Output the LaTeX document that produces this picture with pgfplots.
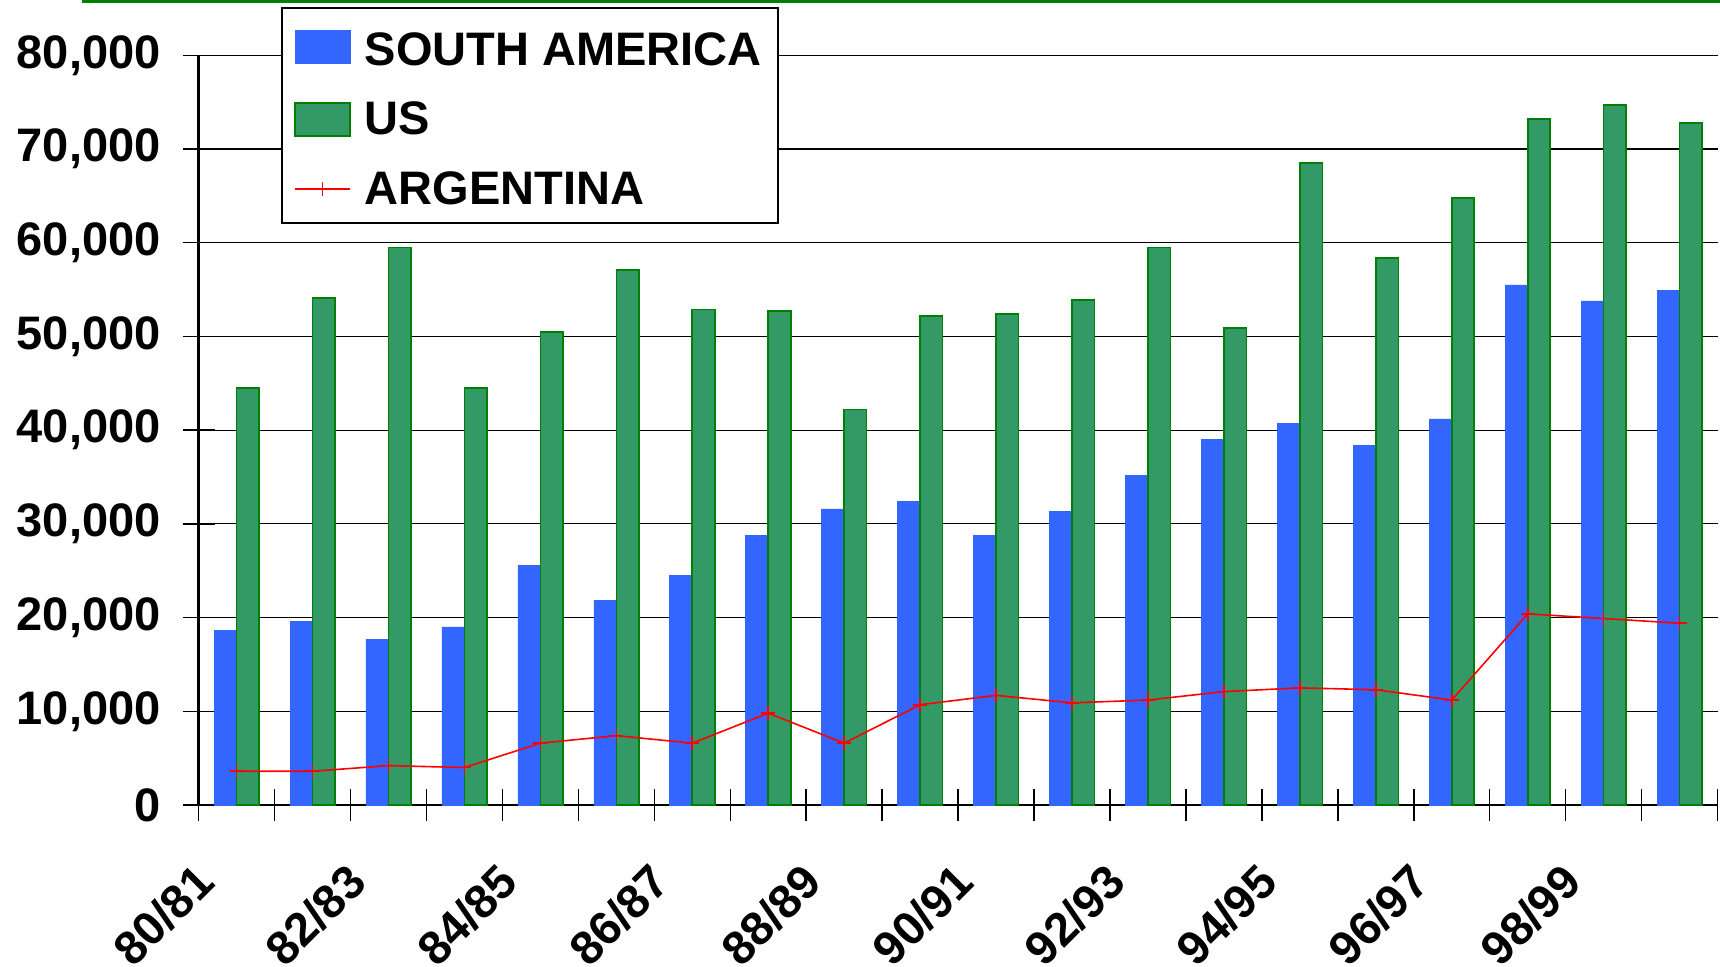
\documentclass[border=0pt]{standalone}
\usepackage{pgfplots}
\usepackage{pgfplotstable}
\pgfplotsset{compat=1.18}
\usepackage{fontspec}
\setmainfont{Liberation Sans}
\definecolor{saBlue}{RGB}{51,102,255}
\definecolor{usGreen}{RGB}{51,153,102}
\definecolor{usEdge}{RGB}{0,128,0}
\definecolor{topGreen}{RGB}{0,128,0}
\newcommand\lbl{\fontsize{23.5}{28}\selectfont\bfseries}

\pgfplotstableread{
x sa us ar
0 18600 44500 3600
1 19600 54100 3600
2 17700 59500 4200
3 19000 44500 4000
4 25600 50500 6600
5 21800 57100 7400
6 24500 52900 6600
7 28800 52700 9800
8 31600 42200 6600
9 32400 52200 10700
10 28800 52400 11700
11 31300 53900 10900
12 35200 59500 11200
13 39000 50900 12100
14 40700 68500 12500
15 38400 58400 12300
16 41200 64800 11200
17 55500 73200 20400
18 53800 74700 19900
19 54900 72800 19400
}\datatable

\begin{document}
\begin{tikzpicture}
\path[use as bounding box] (-99.3pt,-81pt) rectangle (760.7pt,402.5pt);
\begin{axis}[
  at={(0,0)}, anchor=south west,
  scale only axis, width=759.5pt, height=374.8pt,
  xmin=-0.5, xmax=19.5, ymin=0, ymax=80000,
  axis lines=left, axis line style={-, line width=1.1pt},
  xtick={-0.5,0.5,...,19.5}, xticklabels={},
  extra x ticks={0,2,...,18},
  extra x tick labels={80/81,82/83,84/85,86/87,88/89,90/91,92/93,94/95,96/97,98/99},
  extra x tick style={major tick length=0pt},
  xticklabel style={font=\lbl, xshift=-22pt, yshift=-23pt, rotate=45, anchor=north east},
  ytick={0,10000,...,80000},
  scaled y ticks=false,
  yticklabel style={font=\lbl, /pgf/number format/1000 sep={,}, /pgf/number format/assume math mode=true, xshift=-7.5pt},
  ymajorgrids, xmajorgrids=false,
  grid style={black, line width=0.6pt},
  tick align=center, major tick length=16pt,
  tick style={black, line width=0.7pt},
  legend style={at={(0.0543,1.064)}, anchor=north west, draw=black, line width=1pt, fill=white,
    font=\lbl, inner xsep=6pt, inner ysep=6pt, row sep=12.8pt, cells={anchor=west},
    /tikz/every odd column/.append style={column sep=5pt}},
  legend cell align=left,
  clip=false,
]
\addplot[ybar, bar width=11.25pt, bar shift=-5.625pt, fill=saBlue, draw=saBlue, line width=0.3pt,
  legend image code/.code={\draw[fill=saBlue, draw=saBlue] (0pt,-8.25pt) rectangle (27.5pt,8.25pt);}]
  table[x=x, y=sa] {\datatable};
\addlegendentry{\rule{0pt}{20.4pt}SOUTH AMERICA}
\addplot[ybar, bar width=11.25pt, bar shift=5.625pt, fill=usGreen, draw=usEdge, line width=0.8pt,
  legend image code/.code={\draw[fill=usGreen, draw=usEdge, line width=0.8pt] (0pt,-8.25pt) rectangle (27.5pt,8.25pt);}]
  table[x=x, y=us] {\datatable};
\addlegendentry{US}
\addplot[red, line width=0.8pt, mark=+, mark size=3.5pt, mark options={line width=0.8pt},
  legend image code/.code={\draw[mark repeat=2, mark phase=2, red, line width=0.8pt, mark=+, mark size=3.5pt] plot coordinates {(0pt,0pt) (13.75pt,0pt) (27.5pt,0pt)};}]
  table[x=x, y=ar] {\datatable};
\addlegendentry{ARGENTINA}
\end{axis}
\draw[topGreen, line width=1.6pt] (-58.3pt,401.7pt) -- (760.7pt,401.7pt);
\end{tikzpicture}
\end{document}
